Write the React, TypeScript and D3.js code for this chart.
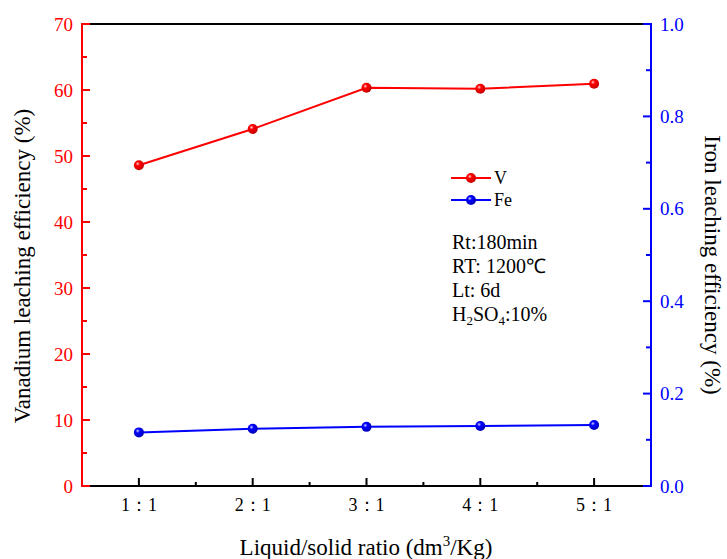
import React from "react";
import * as d3 from "d3";

const categories = ["1：1", "2：1", "3：1", "4：1", "5：1"];
const vValues = [48.6, 54.1, 60.35, 60.2, 60.95];
const feValues = [0.116, 0.124, 0.128, 0.13, 0.132];
const leftTicks = [0, 10, 20, 30, 40, 50, 60, 70];
const rightTicks = [0, 0.2, 0.4, 0.6, 0.8, 1.0];
const conditions = ["Rt:180min", "RT: 1200℃", "Lt: 6d"];

export default function App() {
  const W = 727, H = 559;
  const L = 82, R = 651, T = 24, B = 486;
  const x = d3.scaleLinear().domain([0.5, 5.5]).range([L, R]);
  const yL = d3.scaleLinear().domain([0, 70]).range([B, T]);
  const yR = d3.scaleLinear().domain([0, 1]).range([B, T]);
  const font = "Liberation Serif, Times New Roman, serif";
  const red = "#ff0000";
  const blue = "#0000ff";

  const lineV = d3.line<number>().x((_, i) => x(i + 1)).y((d) => yL(d));
  const lineFe = d3.line<number>().x((_, i) => x(i + 1)).y((d) => yR(d));

  const leftMinor = d3.range(5, 70, 10);
  const rightMinor = d3.range(0.1, 1.0, 0.2);
  const xMinor = d3.range(1.5, 5.5, 1);

  return (
    <svg width={W} height={H} style={{ position: "absolute", left: 0, top: 0, background: "#fff", fontFamily: font }}>
      <defs>
        <radialGradient id="gr" cx="0.38" cy="0.35" r="0.7">
          <stop offset="0" stopColor="#ffd0d0" />
          <stop offset="0.3" stopColor="#ff0000" />
          <stop offset="1" stopColor="#c00000" />
        </radialGradient>
        <radialGradient id="gb" cx="0.38" cy="0.35" r="0.7">
          <stop offset="0" stopColor="#d0d0ff" />
          <stop offset="0.3" stopColor="#0000ff" />
          <stop offset="1" stopColor="#0000b0" />
        </radialGradient>
      </defs>
      <rect width={W} height={H} fill="#fff" />
      <line x1={L} x2={R} y1={T} y2={T} stroke="#000" strokeWidth={2} />
      <line x1={L} x2={R} y1={B} y2={B} stroke="#000" strokeWidth={2} />
      {categories.map((c, i) => (
        <g key={c}>
          <line x1={x(i + 1)} x2={x(i + 1)} y1={B} y2={B - 8} stroke="#000" strokeWidth={2} />
          <text x={x(i + 1)} y={511} textAnchor="middle" fontSize={18} fill="#000">{c}</text>
        </g>
      ))}
      {xMinor.map((m) => (
        <line key={m} x1={x(m)} x2={x(m)} y1={B} y2={B - 4} stroke="#000" strokeWidth={2} />
      ))}
      <line x1={L} x2={L} y1={T - 1} y2={B + 1} stroke={red} strokeWidth={2} />
      {leftTicks.map((t) => (
        <g key={t}>
          <line x1={L} x2={L + 8} y1={yL(t)} y2={yL(t)} stroke={red} strokeWidth={2} />
          <text x={73} y={yL(t) + 6.5} textAnchor="end" fontSize={19} fill={red}>{t}</text>
        </g>
      ))}
      {leftMinor.map((t) => (
        <line key={t} x1={L} x2={L + 5} y1={yL(t)} y2={yL(t)} stroke={red} strokeWidth={2} />
      ))}
      <line x1={R} x2={R} y1={T - 1} y2={B + 1} stroke={blue} strokeWidth={2} />
      {rightTicks.map((t) => (
        <g key={t}>
          <line x1={R} x2={R - 8} y1={yR(t)} y2={yR(t)} stroke={blue} strokeWidth={2} />
          <text x={660} y={yR(t) + 6.5} textAnchor="start" fontSize={19} fill={blue}>{t.toFixed(1)}</text>
        </g>
      ))}
      {rightMinor.map((t) => (
        <line key={t} x1={R} x2={R - 5} y1={yR(t)} y2={yR(t)} stroke={blue} strokeWidth={2} />
      ))}
      <path d={lineV(vValues) || ""} fill="none" stroke={red} strokeWidth={2} />
      <path d={lineFe(feValues) || ""} fill="none" stroke={blue} strokeWidth={2} />
      {vValues.map((v, i) => (
        <circle key={"v" + i} cx={x(i + 1)} cy={yL(v)} r={5} fill="url(#gr)" />
      ))}
      {feValues.map((v, i) => (
        <circle key={"f" + i} cx={x(i + 1)} cy={yR(v)} r={5} fill="url(#gb)" />
      ))}
      <line x1={451} x2={491} y1={178} y2={178} stroke={red} strokeWidth={2} />
      <circle cx={471} cy={178} r={5} fill="url(#gr)" />
      <text x={494} y={184} fontSize={18} fill="#000">V</text>
      <line x1={451} x2={491} y1={200} y2={200} stroke={blue} strokeWidth={2} />
      <circle cx={471} cy={200} r={5} fill="url(#gb)" />
      <text x={494} y={206} fontSize={18} fill="#000">Fe</text>
      {conditions.map((c, i) => (
        <text key={c} x={452} y={249 + i * 24} fontSize={20} fill="#000">{c}</text>
      ))}
      <text x={452} y={321} fontSize={20} fill="#000">
        H<tspan fontSize={13} dy={4}>2</tspan><tspan dy={-4}>SO</tspan><tspan fontSize={13} dy={4}>4</tspan><tspan dy={-4}>:10%</tspan>
      </text>
      <text transform={`translate(30,${(T + B) / 2 + 11}) rotate(-90)`} textAnchor="middle" fontSize={23} fill="#000">
        Vanadium leaching efficiency (%)
      </text>
      <text transform={`translate(705,${(T + B) / 2 + 10}) rotate(90)`} textAnchor="middle" fontSize={23} fill="#000">
        Iron leaching efficiency (%)
      </text>
      <text x={366} y={555} textAnchor="middle" fontSize={23} fill="#000">
        Liquid/solid ratio (dm<tspan fontSize={15} dy={-9}>3</tspan><tspan dy={9}>/Kg)</tspan>
      </text>
    </svg>
  );
}
